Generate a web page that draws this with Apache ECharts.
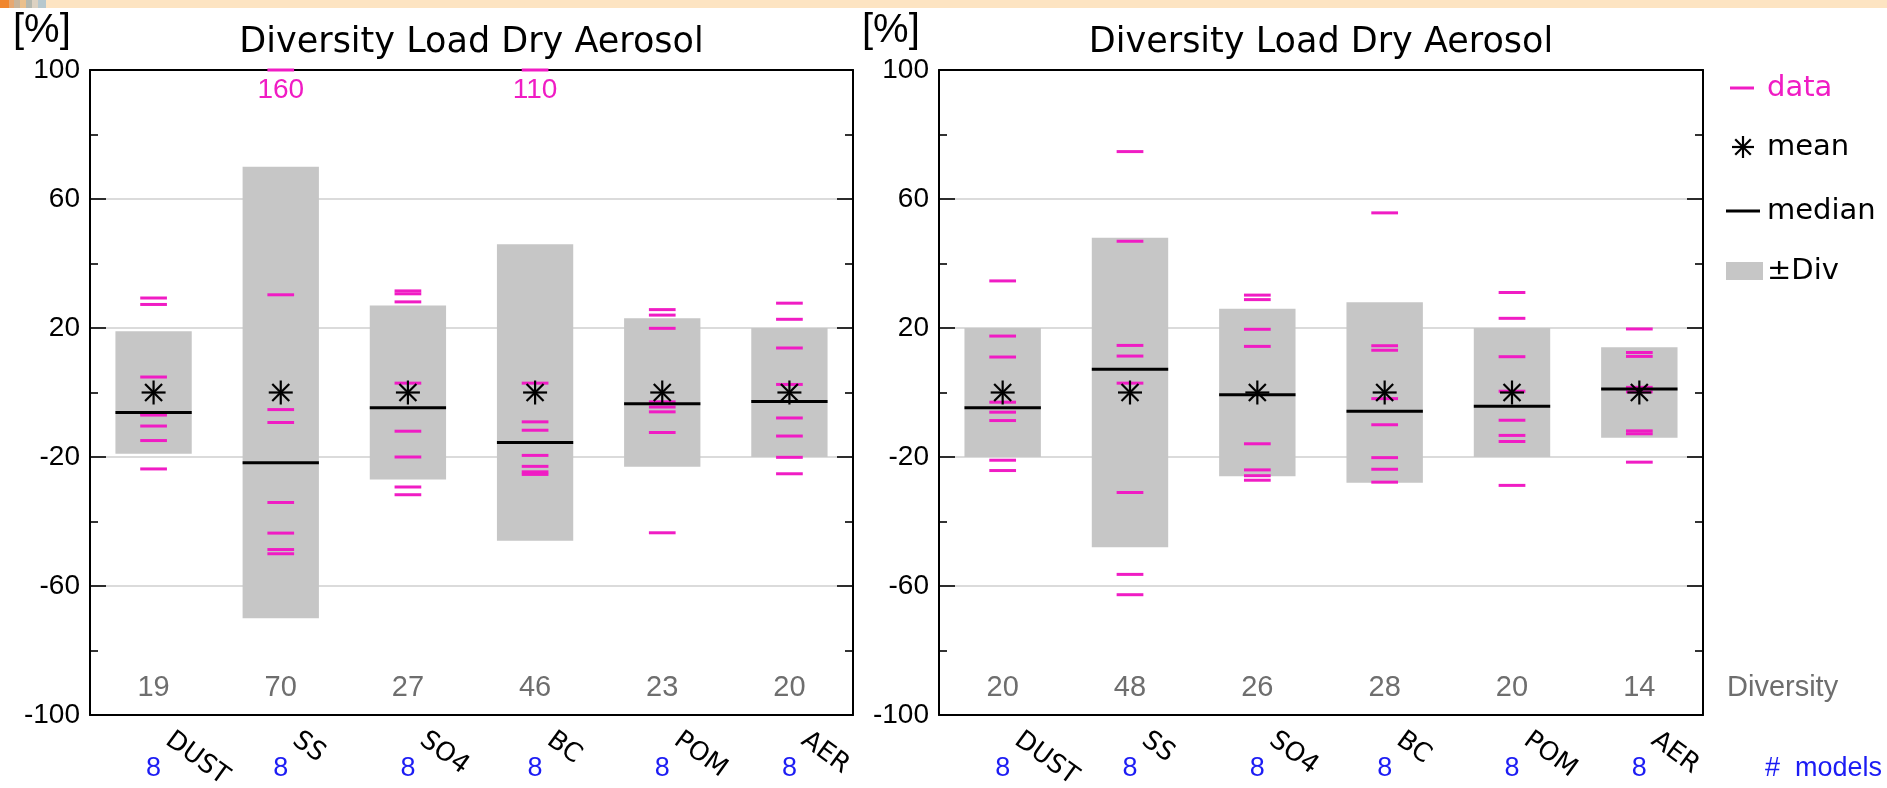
<!DOCTYPE html>
<html>
<head>
<meta charset="utf-8">
<script src="https://cdn.jsdelivr.net/npm/echarts@6/dist/echarts.min.js"></script>
<style>
html,body{margin:0;padding:0;background:#fff;}
#chart{width:1887px;height:788px;}
</style>
</head>
<body>
<div id="chart"></div>
<script>
// Species and number of models contributing to each
const categories = ['DUST', 'SS', 'SO4', 'BC', 'POM', 'AER'];
const modelCount = [8, 8, 8, 8, 8, 8];

// Panel A: diversity (±Div box half-height), mean and median, in %
const diversityA = [19, 70, 27, 46, 23, 20];
const meanA = [0, 0, 0, 0, 0, 0];
const medianA = [-6.2, -21.8, -4.7, -15.5, -3.5, -2.8];
// Panel A: per-model deviations from the mean, in %
const dustA = [29.3, 27.3, 4.8, -6.6, -7.0, -10.4, -14.9, -23.7];
const ssA = [160, 30.3, -5.3, -9.3, -34.1, -43.6, -48.7, -50.0];
const so4A = [31.5, 30.6, 28.1, 2.9, -12.0, -20.0, -29.3, -31.7];
const bcA = [110, 2.9, -9.1, -11.7, -19.5, -22.9, -24.6, -25.4];
const pomA = [25.7, 24.0, 19.9, -2.9, -4.5, -6.0, -12.4, -43.5];
const aerA = [27.7, 22.7, 13.8, 2.5, -7.9, -13.5, -20.1, -25.2];

// Panel B
const diversityB = [20, 48, 26, 28, 20, 14];
const meanB = [0, 0, 0, 0, 0, 0];
const medianB = [-4.7, 7.2, -0.7, -5.8, -4.3, 1.1];
const dustB = [34.6, 17.5, 11.0, -3.0, -6.1, -8.7, -21.0, -24.2];
const ssB = [74.7, 46.9, 14.6, 11.3, 2.9, -31.0, -56.4, -62.7];
const so4B = [30.2, 28.8, 19.6, 14.3, -15.9, -24.0, -25.8, -27.2];
const bcB = [55.7, 14.5, 13.1, -1.9, -10.0, -20.2, -23.8, -27.8];
const pomB = [31.0, 23.0, 11.1, 0.4, -8.6, -13.3, -15.2, -28.8];
const aerB = [19.7, 12.4, 11.2, 1.6, 0.2, -11.9, -12.8, -21.6];

// Axis range
const yMin = -100;
const yMax = 100;
const yStep = 40;

const PINK = '#f01cc4';
const BOX = '#c6c6c6';
const BLUE = '#1c1cf4';
const GREY_TXT = '#6e6e6e';
const NARROW = '"Liberation Sans Narrow","Arial Narrow","Liberation Sans",sans-serif';
const GEO = '"DejaVu Sans",sans-serif';
const ARIAL = '"Liberation Sans",Arial,sans-serif';

const panels = [
  { diversity: diversityA, mean: meanA, median: medianA,
    values: [dustA, ssA, so4A, bcA, pomA, aerA], x0: 90, x1: 853 },
  { diversity: diversityB, mean: meanB, median: medianB,
    values: [dustB, ssB, so4B, bcB, pomB, aerB], x0: 939, x1: 1703 }
];
const TOP = 70, BOTTOM = 715, W = 1887;

function renderBox(params, api) {
  const i = api.value(0), d = api.value(1);
  const w = api.size([1, 0])[0] * 0.6;
  const hi = api.coord([i, d]), lo = api.coord([i, -d]);
  const base = api.coord([i, yMin]);
  return { type: 'group', children: [
    { type: 'rect', shape: { x: hi[0] - w / 2, y: hi[1], width: w, height: lo[1] - hi[1] }, style: { fill: BOX } },
    { type: 'text', x: base[0], y: base[1] - 27,
      style: { text: String(d), fill: GREY_TXT, font: '29px ' + NARROW, align: 'center', verticalAlign: 'middle' } }
  ]};
}

function renderModels(params, api) {
  const i = api.value(0), n = api.value(1);
  const base = api.coord([i, yMin]);
  return { type: 'text', x: base[0], y: base[1] + 54,
    style: { text: String(n), fill: BLUE, font: '27px ' + NARROW, align: 'center', verticalAlign: 'middle' } };
}

function renderDash(params, api) {
  const i = api.value(0), v = api.value(1);
  const w = api.size([1, 0])[0] * 0.21;
  const p = api.coord([i, Math.min(v, yMax)]);
  const children = [{ type: 'line', shape: { x1: p[0] - w / 2, y1: p[1], x2: p[0] + w / 2, y2: p[1] },
    style: { stroke: PINK, lineWidth: 3 } }];
  if (v > yMax) {
    children.push({ type: 'text', x: p[0], y: p[1] + 20,
      style: { text: String(v), fill: PINK, font: '28px ' + ARIAL, align: 'center', verticalAlign: 'middle' } });
  }
  return { type: 'group', children: children };
}

function renderMedian(params, api) {
  const i = api.value(0), v = api.value(1);
  const w = api.size([1, 0])[0] * 0.6;
  const p = api.coord([i, v]);
  return { type: 'line', shape: { x1: p[0] - w / 2, y1: p[1], x2: p[0] + w / 2, y2: p[1] },
    style: { stroke: '#000', lineWidth: 3 } };
}

function asteriskShapes(cx, cy, r) {
  const out = [];
  for (let k = 0; k < 4; k++) {
    const a = k * Math.PI / 4;
    const dx = Math.cos(a) * r, dy = Math.sin(a) * r;
    out.push({ type: 'line', shape: { x1: cx - dx, y1: cy - dy, x2: cx + dx, y2: cy + dy },
      style: { stroke: '#000', lineWidth: 2.2 } });
  }
  return out;
}

function renderMean(params, api) {
  const p = api.coord([api.value(0), api.value(1)]);
  return { type: 'group', children: asteriskShapes(p[0], p[1], 12) };
}

const grid = [], xAxis = [], yAxis = [], series = [];
panels.forEach(function (pn, k) {
  grid.push({ left: pn.x0, width: pn.x1 - pn.x0, top: TOP, height: BOTTOM - TOP,
    containLabel: false, outerBoundsMode: 'none' });
  const lineStyle = { color: '#000', width: 2 };
  xAxis.push({
    type: 'category', gridIndex: k, data: categories, position: 'bottom',
    axisLine: { onZero: false, lineStyle: lineStyle },
    axisTick: { inside: true, alignWithLabel: true, length: 15, lineStyle: { color: '#000', width: 1.6 } },
    axisLabel: { rotate: -36, margin: 12, padding: [0, 0, 0, 18], color: '#000', fontSize: 26, fontFamily: GEO },
    splitLine: { show: false }
  });
  xAxis.push({
    type: 'category', gridIndex: k, data: categories, position: 'top',
    axisLine: { onZero: false, lineStyle: lineStyle },
    axisTick: { inside: true, alignWithLabel: true, length: 13, lineStyle: { color: '#000', width: 1.6 } },
    axisLabel: { show: false }, splitLine: { show: false }
  });
  yAxis.push({
    type: 'value', gridIndex: k, min: yMin, max: yMax, interval: yStep, position: 'left',
    axisLine: { show: true, onZero: false, lineStyle: lineStyle },
    axisTick: { show: true, inside: true, length: 16, lineStyle: { color: '#000', width: 1.6 } },
    minorTick: { show: true, splitNumber: 2, length: 8, lineStyle: { color: '#000', width: 1.6 } },
    axisLabel: { color: '#000', fontSize: 28, fontFamily: ARIAL, margin: 10 },
    splitLine: { show: true, lineStyle: { color: '#cfcfcf', width: 1.5 } }
  });
  yAxis.push({
    type: 'value', gridIndex: k, min: yMin, max: yMax, interval: yStep, position: 'right',
    axisLine: { show: true, onZero: false, lineStyle: lineStyle },
    axisTick: { show: true, inside: true, length: 16, lineStyle: { color: '#000', width: 1.6 } },
    minorTick: { show: true, splitNumber: 2, length: 8, lineStyle: { color: '#000', width: 1.6 } },
    axisLabel: { show: false }, splitLine: { show: false }
  });
  const xi = 2 * k, yi = 2 * k;
  const dashes = [];
  pn.values.forEach(function (arr, i) { arr.forEach(function (v) { dashes.push([i, v]); }); });
  series.push({ type: 'custom', name: 'box' + k, xAxisIndex: xi, yAxisIndex: yi, clip: false, z: 2,
    data: pn.diversity.map(function (d, i) { return [i, d]; }), renderItem: renderBox });
  series.push({ type: 'custom', name: 'models' + k, xAxisIndex: xi, yAxisIndex: yi, clip: false, z: 2,
    data: modelCount.map(function (n, i) { return [i, n]; }), renderItem: renderModels });
  series.push({ type: 'custom', name: 'data' + k, xAxisIndex: xi, yAxisIndex: yi, clip: false, z: 3,
    data: dashes, renderItem: renderDash });
  series.push({ type: 'custom', name: 'median' + k, xAxisIndex: xi, yAxisIndex: yi, clip: false, z: 4,
    data: pn.median.map(function (v, i) { return [i, v]; }), renderItem: renderMedian });
  series.push({ type: 'custom', name: 'mean' + k, xAxisIndex: xi, yAxisIndex: yi, clip: false, z: 5,
    data: pn.mean.map(function (v, i) { return [i, v]; }), renderItem: renderMean });
});

// Page header strip, panel titles, units and the key
const graphic = [
  { type: 'rect', shape: { x: 0, y: 0, width: W, height: 8 }, style: { fill: '#fde4c2' }, silent: true },
  { type: 'rect', shape: { x: 0, y: 0, width: 9, height: 8 }, style: { fill: '#f0862e' } },
  { type: 'rect', shape: { x: 9, y: 0, width: 5, height: 8 }, style: { fill: '#e6a872' } },
  { type: 'rect', shape: { x: 14, y: 0, width: 6, height: 8 }, style: { fill: '#c8b49a' } },
  { type: 'rect', shape: { x: 20, y: 0, width: 6, height: 8 }, style: { fill: '#eac08c' } },
  { type: 'rect', shape: { x: 26, y: 0, width: 6, height: 8 }, style: { fill: '#b4b8ae' } },
  { type: 'rect', shape: { x: 32, y: 0, width: 6, height: 8 }, style: { fill: '#dcd2c2' } },
  { type: 'rect', shape: { x: 38, y: 0, width: 8, height: 8 }, style: { fill: '#b6c8ce' } }
];
panels.forEach(function (pn) {
  graphic.push({ type: 'text', x: (pn.x0 + pn.x1) / 2, y: 43,
    style: { text: 'Diversity Load Dry Aerosol', fill: '#000', font: '35px ' + GEO, align: 'center', verticalAlign: 'middle' } });
  graphic.push({ type: 'text', x: pn.x0 - 77, y: 31,
    style: { text: '[%]', fill: '#000', font: '40px ' + ARIAL, align: 'left', verticalAlign: 'middle' } });
});
const keyFont = '29px ' + GEO;
graphic.push(
  { type: 'line', shape: { x1: 1730, y1: 88, x2: 1754, y2: 88 }, style: { stroke: PINK, lineWidth: 3 } },
  { type: 'text', x: 1767, y: 88, style: { text: 'data', fill: PINK, font: keyFont, verticalAlign: 'middle' } },
  { type: 'group', children: asteriskShapes(1743, 147, 11) },
  { type: 'text', x: 1767, y: 147, style: { text: 'mean', fill: '#000', font: keyFont, verticalAlign: 'middle' } },
  { type: 'line', shape: { x1: 1726, y1: 211, x2: 1760, y2: 211 }, style: { stroke: '#000', lineWidth: 3 } },
  { type: 'text', x: 1767, y: 211, style: { text: 'median', fill: '#000', font: keyFont, verticalAlign: 'middle' } },
  { type: 'rect', shape: { x: 1726, y: 262, width: 37, height: 18 }, style: { fill: BOX } },
  { type: 'text', x: 1767, y: 271, style: { text: '±Div', fill: '#000', font: keyFont, verticalAlign: 'middle' } },
  { type: 'text', x: 1727, y: 688, style: { text: 'Diversity', fill: GREY_TXT, font: '29px ' + NARROW, verticalAlign: 'middle' } },
  { type: 'text', x: 1765, y: 769, style: { text: '#  models', fill: BLUE, font: '27px ' + NARROW, verticalAlign: 'middle' } }
);

const chart = echarts.init(document.getElementById('chart'));
chart.setOption({
  backgroundColor: '#fff',
  animation: false,
  grid: grid,
  xAxis: xAxis,
  yAxis: yAxis,
  series: series,
  graphic: graphic
});
</script>
</body>
</html>
